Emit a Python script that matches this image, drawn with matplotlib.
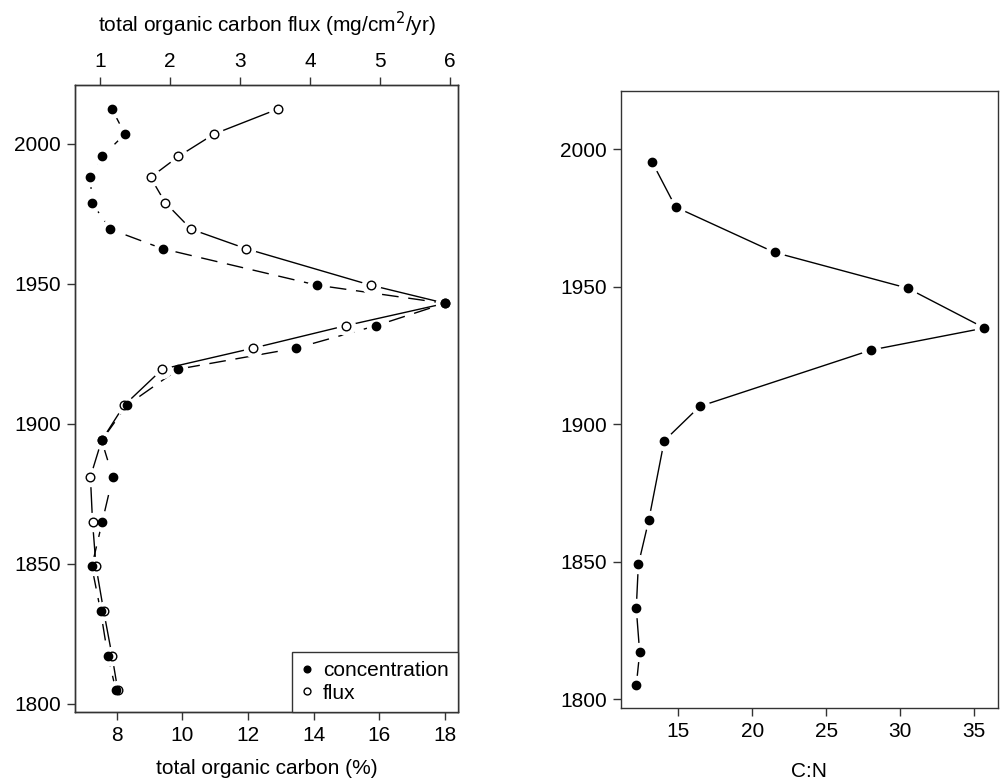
import matplotlib.pyplot as plt

plt.rcParams['font.family'] = ['Liberation Sans', 'DejaVu Sans']
plt.rcParams['font.size'] = 15

# left panel: total organic carbon concentration and flux by year
years = [2012.5, 2003.5, 1995.5, 1988, 1979, 1969.5, 1962.5, 1949.5, 1943, 1935,
         1927, 1919.5, 1906.5, 1894, 1881, 1865, 1849, 1833, 1817, 1805]
toc_pct = [7.85, 8.25, 7.56, 7.2, 7.24, 7.8, 9.4, 14.1, 18.0, 15.9,
           13.47, 9.88, 8.3, 7.54, 7.88, 7.56, 7.24, 7.51, 7.73, 7.97]
toc_flux = [3.55, 2.63, 2.12, 1.72, 1.93, 2.30, 3.09, 4.87, 5.94, 4.51,
            3.19, 1.89, 1.34, 1.02, 0.86, 0.89, 0.94, 1.05, 1.17, 1.25]

# right panel: C:N ratio
cn_years = [1995.5, 1979, 1962.5, 1949.5, 1935, 1927, 1906.5, 1894,
            1865, 1849, 1833, 1817, 1805]
cn_ratio = [13.22, 14.82, 21.51, 30.5, 35.7, 28.04, 16.45, 14.05,
            13.0, 12.3, 12.16, 12.39, 12.16]

spine_col = '#333333'
halo = 13   # white gap round each point, like R type="b"


def style_axes(ax):
    for s in ax.spines.values():
        s.set_color(spine_col)
        s.set_linewidth(1.0)
    ax.tick_params(direction='out', length=6, width=1, color=spine_col, pad=4)


fig = plt.figure(figsize=(10.02, 7.8), dpi=100)

# ---- left panel
ax1 = fig.add_axes([0.0749, 0.0872, 0.3822, 0.8038])
ax1.plot(toc_pct, years, color='black', lw=1, dashes=(12, 7), zorder=2)
ax1.plot(toc_pct, years, 'o', ms=halo, color='white', mec='white', zorder=3)
ax1.set_xlim(6.73, 18.4)
ax1.set_ylim(1797, 2021)
ax1.set_xticks([8, 10, 12, 14, 16, 18])
ax1.set_yticks([1800, 1850, 1900, 1950, 2000])
ax1.set_xlabel('total organic carbon (%)', labelpad=10)
style_axes(ax1)

ax2 = ax1.twiny()
ax2.plot(toc_flux, years, color='black', lw=1, zorder=2)
ax2.plot(toc_flux, years, 'o', ms=halo, color='white', mec='white', zorder=3)
ax2.set_xlim(0.64, 6.12)
ax2.set_xticks([1, 2, 3, 4, 5, 6])
ax2.set_xlabel('total organic carbon flux (mg/cm$^2$/yr)', labelpad=14)
style_axes(ax2)

# markers: open flux first, filled concentration on top
h_flux, = ax2.plot(toc_flux, years, 'o', ms=6.2, mfc='white', mec='black', mew=1, zorder=4)
ax3 = ax1.twiny()
ax3.set_xlim(ax1.get_xlim())
ax3.axis('off')
h_conc, = ax3.plot(toc_pct, years, 'o', ms=6, color='black', zorder=5)

leg = ax3.legend([h_conc, h_flux], ['concentration', 'flux'], loc='lower right',
                 borderaxespad=0, fancybox=False, edgecolor=spine_col, framealpha=1,
                 handletextpad=0.45, handlelength=0.6, borderpad=0.45,
                 labelspacing=0.15, markerscale=0.8)
leg.get_frame().set_linewidth(1.0)

# ---- right panel
ax4 = fig.add_axes([0.6198, 0.0923, 0.376, 0.791])
ax4.plot(cn_ratio, cn_years, color='black', lw=1, zorder=2)
ax4.plot(cn_ratio, cn_years, 'o', ms=halo, color='white', mec='white', zorder=3)
ax4.plot(cn_ratio, cn_years, 'o', ms=6, color='black', zorder=4)
ax4.set_xlim(11.13, 36.6)
ax4.set_ylim(1796.8, 2021.2)
ax4.set_xticks([15, 20, 25, 30, 35])
ax4.set_yticks([1800, 1850, 1900, 1950, 2000])
ax4.set_xlabel('C:N', labelpad=15)
style_axes(ax4)

fig.savefig('out.png', dpi=100, facecolor='white')
